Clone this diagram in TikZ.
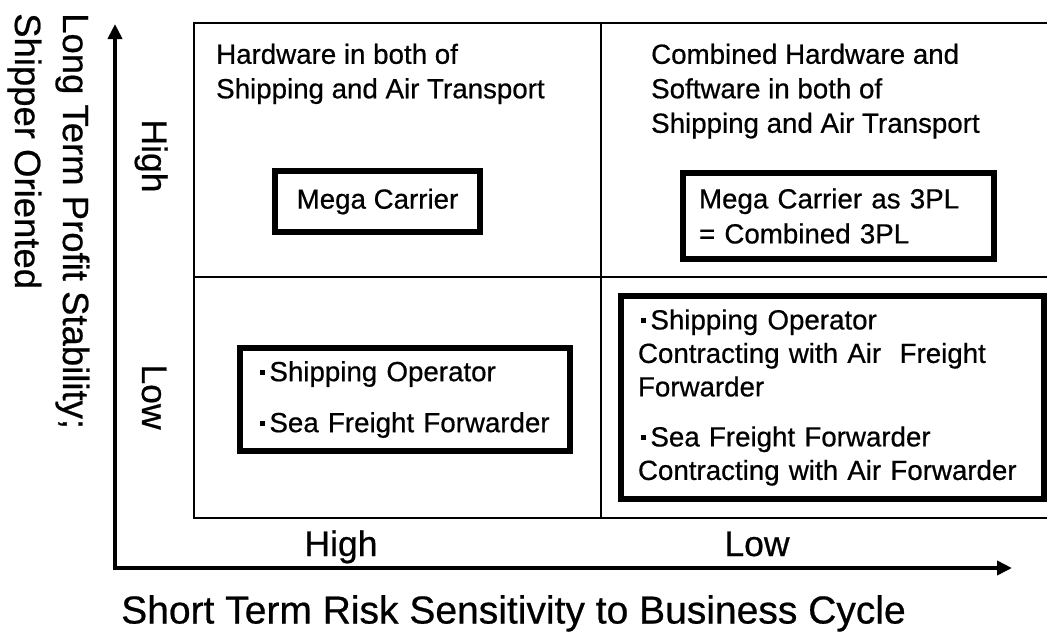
\documentclass[tikz,border=0pt]{standalone}
\usepackage{fontspec}
\setmainfont{Liberation Sans}[FakeBold=0.6,AutoFakeBold=0]
\usetikzlibrary{arrows.meta}
% small square bullet placed at mid x-height
\newcommand{\sqbullet}{\hspace*{0.1em}\rule[0.22em]{0.18em}{0.18em}\hspace{0.17em}}

\begin{document}
\begin{tikzpicture}[x=1pt,y=-1pt,
  gridline/.style={line width=2pt},
  axisline/.style={line width=4.5pt, line join=miter,
    {Triangle[length=15pt,width=14pt]}-{Triangle[length=15pt,width=14pt]}},
  cellhead/.style={anchor=north west, inner sep=0pt, align=left,
    font=\fontsize{27.7}{34.5}\selectfont},
  entrybox/.style={draw, line width=6pt, fill=white, align=left, inner ysep=0pt,
    font=\fontsize{27.7}{33.5}\selectfont},
  xtitle/.style={inner sep=0pt, font=\fontsize{39}{48}\selectfont},
  ytitle/.style={inner sep=0pt, rotate=-90, anchor=base west,
    font=\fontsize{36.5}{48}\selectfont},
  levellabel/.style={inner sep=0pt, anchor=base, font=\fontsize{35.5}{40}\selectfont}
]
\useasboundingbox (0,0) rectangle (1047,632);

% quadrant grid, open on the right
\coordinate (gtl) at (194,23);
\coordinate (gbl) at (194,518);
\coordinate (gtr) at (1047,23);
\coordinate (gbr) at (1047,518);
\coordinate (midtop) at (601,23);
\coordinate (midbot) at (601,518);
\coordinate (midleft) at (194,277);
\coordinate (midright) at (1047,277);
\draw[gridline] (gtr) -- (gtl) -- (gbl) -- (gbr);
\draw[gridline] (midtop) -- (midbot);
\draw[gridline] (midleft) -- (midright);

% axes
\coordinate (ytip) at (115,24);
\coordinate (corner) at (115,568);
\coordinate (xtip) at (1012,568);
\draw[axisline] (ytip) -- (corner) -- (xtip);

% quadrant headings
\node[cellhead] (hwhead) at (216,43.5) {Hardware in both of\\Shipping and Air Transport};
\node[cellhead] (combhead) at (651,43.5) {Combined Hardware and\\Software in both of\\Shipping and Air Transport};

% entries
\node[entrybox, minimum width=205pt, minimum height=61pt] (mega) at (377.5,201.5) {Mega Carrier};
\node[entrybox, text width=279pt, inner xsep=16pt, minimum height=86pt,
      font=\fontsize{27.7}{35}\selectfont] (mega3pl) at (838.5,216)
  {Mega Carrier as 3PL\\= Combined 3PL};
\node[entrybox, text width=296pt, inner xsep=17pt, minimum height=103pt] (seaops) at (405,399.5)
  {\sqbullet Shipping Operator\\[17.5pt]\sqbullet Sea Freight Forwarder};
\node[entrybox, text width=389pt, inner xsep=17pt, minimum height=203pt] (contract) at (832.5,397.5)
  {\sqbullet Shipping Operator\\Contracting with Air\ \ Freight\\Forwarder\\[16.5pt]%
   \sqbullet Sea Freight Forwarder\\Contracting with Air Forwarder};

% level labels
\node[levellabel, rotate=-90] (yhigh) at (142,156) {High};
\node[levellabel, rotate=-90] (ylow) at (142,397) {Low};
\node[levellabel] (xhigh) at (341,556) {High};
\node[levellabel] (xlow) at (757,556) {Low};

% axis titles
\node[ytitle] (ytitleA) at (63,13) {Long Term Profit Stability;};
\node[ytitle] (ytitleB) at (15,13) {Shipper Oriented};
\node[xtitle, anchor=base] (xtitleA) at (513.5,623.5) {Short Term Risk Sensitivity to Business Cycle};
\end{tikzpicture}
\end{document}
